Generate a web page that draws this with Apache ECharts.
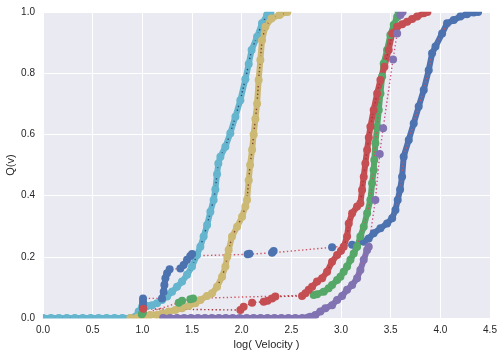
<!DOCTYPE html>
<html><head><meta charset="utf-8">
<script src="https://cdn.jsdelivr.net/npm/echarts@6/dist/echarts.min.js"></script>
<style>html,body{margin:0;padding:0;background:#fff}#c{width:502px;height:358px}</style>
</head><body><div id="c"></div>
<script>
const xTickLabels = ['0.0','0.5','1.0','1.5','2.0','2.5','3.0','3.5','4.0','4.5'];
const yTickLabels = ['0.0','0.2','0.4','0.6','0.8','1.0'];
const xTitle = 'log( Velocity )';
const yTitle = 'Q(v)';

// each series: list of contiguous marker runs (segments)
const cyanSegs = [
 [[0,0],[0.08,0],[0.16,0],[0.24,0],[0.32,0],[0.40,0],[0.48,0],[0.56,0],[0.64,0],[0.72,0],[0.80,0],[0.88,0],
  [0.93,0.004],[0.963,0.021],[0.997,0.037],[1.047,0.039],[1.098,0.042],[1.148,0.048],[1.198,0.059],[1.249,0.070],
  [1.299,0.086],[1.349,0.102],[1.40,0.119],[1.45,0.141],[1.50,0.168],[1.551,0.206],[1.584,0.233],[1.617,0.266],
  [1.652,0.304],[1.685,0.347],[1.718,0.386],[1.735,0.42],[1.752,0.47],[1.765,0.505],[1.786,0.527],[1.836,0.560],
  [1.886,0.604],[1.937,0.658],[1.987,0.712],[2.037,0.780],[2.071,0.830],[2.10,0.876],[2.155,0.919],[2.205,0.963],
  [2.256,0.990],[2.29,1.0]]
];
const yellowSegs = [
 [[0.88,0],[0.95,0.002],[1.01,0.004],[1.08,0.010],[1.145,0.010],[1.198,0.015],[1.265,0.021],[1.332,0.026],[1.40,0.032],
  [1.466,0.039],[1.534,0.048],[1.584,0.059],[1.651,0.072],[1.702,0.081],[1.752,0.102],[1.803,0.135],[1.836,0.168],
  [1.855,0.20],[1.869,0.222],[1.903,0.266],[1.954,0.298],[2.004,0.331],[2.037,0.364],[2.054,0.386],[2.071,0.45],
  [2.085,0.50],[2.105,0.55],[2.121,0.60],[2.138,0.65],[2.155,0.70],[2.171,0.778],[2.188,0.843],[2.205,0.908],
  [2.239,0.952],[2.30,0.979],[2.38,0.990],[2.46,1.0]]
];
const blueSegs = [
 [[1.005,0.033],[1.007,0.042],[1.007,0.053],[1.007,0.064]],
 [[1.198,0.064],[1.215,0.086],[1.222,0.108],[1.232,0.130],[1.249,0.146],[1.275,0.159]],
 [[1.383,0.162],[1.416,0.173],[1.45,0.190],[1.483,0.203],[1.501,0.209]],
 [[2.06,0.208],[2.078,0.210]],
 [[2.306,0.213],[2.322,0.219]],
 [[2.91,0.231]],
 [[3.112,0.239]],
 [[3.229,0.249],[3.279,0.260],[3.329,0.277],[3.397,0.293],[3.464,0.309],[3.515,0.326],[3.548,0.353],[3.571,0.386],
  [3.595,0.42],[3.615,0.462],[3.631,0.527],[3.682,0.582],[3.732,0.636],[3.782,0.691],[3.833,0.745],[3.883,0.810],
  [3.917,0.865],[3.951,0.887],[4.018,0.930],[4.068,0.963],[4.135,0.974],[4.201,0.985],[4.268,0.993],[4.336,0.998],[4.38,1.0]]
];
const greenSegs = [
 [[0.995,0.012],[1.005,0.018]],
 [[1.366,0.050],[1.40,0.056]],
 [[1.483,0.061],[1.511,0.064]],
 [[2.725,0.075],[2.759,0.078],[2.826,0.086],[2.876,0.097],[2.91,0.108],[2.961,0.124],[2.994,0.135],[3.027,0.151],
  [3.061,0.168],[3.095,0.190],[3.128,0.211],[3.162,0.233],[3.195,0.266],[3.229,0.298],[3.263,0.342],[3.296,0.386],
  [3.313,0.440],[3.329,0.484],[3.335,0.516],[3.346,0.571],[3.364,0.625],[3.38,0.680],[3.397,0.734],[3.414,0.789],
  [3.43,0.832],[3.464,0.876],[3.497,0.925],[3.531,0.958],[3.565,0.984],[3.58,1.0]]
];
const redSegs = [
 [[1.01,0.030]],
 [[1.987,0.026],[2.02,0.037]],
 [[2.105,0.050]],
 [[2.222,0.053],[2.26,0.056]],
 [[2.306,0.064],[2.339,0.070]],
 [[2.608,0.072],[2.642,0.081],[2.675,0.092],[2.709,0.102],[2.759,0.119],[2.81,0.130],[2.86,0.151],[2.91,0.184],
  [2.961,0.206],[3.0,0.22],[3.027,0.233],[3.061,0.266],[3.078,0.309],[3.112,0.342],[3.162,0.364],[3.195,0.375],
  [3.212,0.418],[3.229,0.462],[3.245,0.505],[3.263,0.549],[3.28,0.59],[3.296,0.625],[3.329,0.680],[3.364,0.734],
  [3.397,0.778],[3.437,0.821],[3.48,0.876],[3.515,0.930],[3.565,0.952],[3.616,0.960],[3.666,0.968],[3.716,0.977],
  [3.766,0.985],[3.833,0.996],[3.87,1.0]]
];
const purpleSegs = [
 [[1.21,0],[1.28,0],[1.35,0],[1.42,0],[1.49,0],[1.56,0],[1.63,0],[1.70,0],[1.77,0],[1.84,0],[1.91,0],[1.98,0],
  [2.05,0],[2.12,0],[2.19,0],[2.26,0],[2.33,0],[2.40,0],[2.47,0],[2.54,0],[2.61,0],[2.67,0.002],[2.692,0.004],
  [2.742,0.010],[2.792,0.021],[2.843,0.032],[2.91,0.042],[2.961,0.059],[3.011,0.072],[3.061,0.092],[3.112,0.108],
  [3.162,0.130],[3.195,0.157],[3.229,0.190],[3.263,0.222],[3.279,0.233]],
 [[3.346,0.386]],
 [[3.39,0.536]],
 [[3.424,0.620]],
 [[3.524,0.845]],
 [[3.565,0.930]],
 [[3.598,0.990],[3.62,1.0]]
];

const groups = [
  {segs: cyanSegs,   color:'#64B5CD', line:'#2F4B7C'},
  {segs: yellowSegs, color:'#CCB974', line:'#8B3F35'},
  {segs: blueSegs,   color:'#4C72B0', line:'#D0545E'},
  {segs: greenSegs,  color:'#55A868', line:'#D0545E'},
  {segs: redSegs,    color:'#C44E52', line:'#A8323A'},
  {segs: purpleSegs, color:'#8172B2', line:'#D0508A'}
];

const series = [];
groups.forEach(g => {
  g.segs.forEach(seg => {
    series.push({type:'line', data:seg, symbol:'circle', symbolSize:8, showAllSymbol:true,
      itemStyle:{color:g.color}, lineStyle:{color:g.color, width:6, cap:'round', join:'round'},
      silent:true, animation:false, clip:false});
  });
  series.push({type:'line', data:[].concat(...g.segs), symbol:'none', showSymbol:false,
    lineStyle:{color:g.line, width:1.4, type:[1.4,2.4]}, silent:true, animation:false});
});

const ff = '"Liberation Sans", Arial, sans-serif';
const chart = echarts.init(document.getElementById('c'), null, {renderer:'canvas'});
chart.setOption({
  animation:false,
  backgroundColor:'#ffffff',
  grid:{left:43, right:12, top:12, bottom:40, show:true, backgroundColor:'#EAEAF2', borderWidth:0,
        containLabel:false, outerBoundsMode:'none'},
  xAxis:{type:'value', min:0, max:4.5, interval:0.5,
    axisLine:{show:false}, axisTick:{show:false},
    splitLine:{show:true, lineStyle:{color:'#ffffff', width:1}},
    axisLabel:{formatter:v=>xTickLabels[Math.round(v/0.5)], color:'#262626', fontSize:10, margin:7, fontFamily:ff},
    name:xTitle, nameLocation:'middle', nameGap:21, nameMoveOverlap:false,
    nameTextStyle:{color:'#262626', fontSize:11, fontFamily:ff}},
  yAxis:{type:'value', min:0, max:1, interval:0.2,
    axisLine:{show:false}, axisTick:{show:false},
    splitLine:{show:true, lineStyle:{color:'#ffffff', width:1}},
    axisLabel:{formatter:v=>yTickLabels[Math.round(v/0.2)], color:'#262626', fontSize:10, margin:8, fontFamily:ff},
    name:yTitle, nameLocation:'middle', nameGap:27, nameRotate:90, nameMoveOverlap:false,
    nameTextStyle:{color:'#262626', fontSize:11, fontFamily:ff}},
  graphic:[
    {type:'rect', z:100, silent:true, shape:{x:38, y:318.5, width:462, height:5}, style:{fill:'#ffffff'}},
    {type:'rect', z:100, silent:true, shape:{x:38, y:3, width:462, height:8.8}, style:{fill:'#ffffff'}},
    {type:'rect', z:100, silent:true, shape:{x:37.5, y:3, width:5.4, height:320}, style:{fill:'#ffffff'}}
  ],
  series:series
});
</script>
</body></html>
